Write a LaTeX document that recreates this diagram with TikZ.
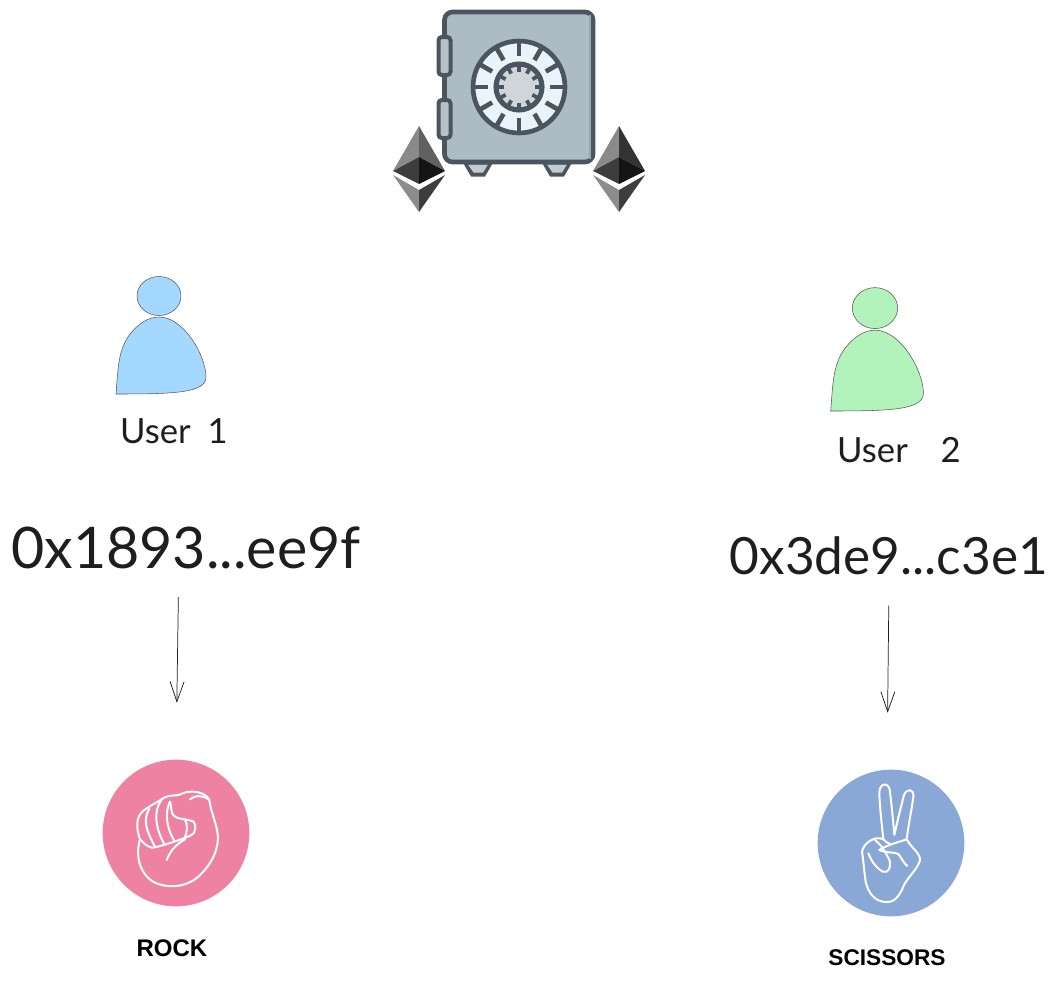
\documentclass[tikz,border=0pt]{standalone}
\usepackage{fontspec}
\setmainfont{Lato}
\newfontfamily\labelfont{Liberation Sans}
\usetikzlibrary{arrows.meta,calc}
\definecolor{safesteel}{HTML}{ADBCC4}
\definecolor{safeline}{HTML}{4A5560}
\definecolor{safeshade}{HTML}{97A7B0}
\definecolor{dialface}{HTML}{E8F3FB}
\definecolor{dialhub}{HTML}{D0D5DA}
\definecolor{footgrey}{HTML}{C5CACE}
\definecolor{userblue}{HTML}{A5D8FF}
\definecolor{usergreen}{HTML}{B2F2BB}
\definecolor{rockpink}{HTML}{EE82A2}
\definecolor{scissorblue}{HTML}{8AA8D6}
\definecolor{inkdark}{HTML}{1E1E1E}
\begin{document}
\begin{tikzpicture}[
  x=0.75pt,y=-0.75pt,
  >={Straight Barb[length=15pt,width=10.5pt]},
  flow/.style={->,line width=0.55pt,draw=inkdark},
  username/.style={font=\fontsize{26}{28}\selectfont,text=inkdark,inner sep=0pt},
  address/.style={text=inkdark,inner sep=0pt,minimum height=42pt},
  choice/.style={circle,inner sep=0pt,minimum size=110pt},
  choicetext/.style={text=black,inner sep=0pt},
  handline/.style={draw=white,line width=1.5pt,line join=round,line cap=round},
  zoomed/.style={x=0.25pt,y=-0.25pt},
  pics/userfig/.style={code={
    \draw[fill=#1,draw=inkdark!75,line width=0.4pt] (0,-98) ellipse (22 and 19.5);
    \draw[fill=#1,draw=inkdark!75,line width=0.4pt] (-43,0) .. controls (-41,-25) and (-41,-44) .. (-29,-60)
      .. controls (-20,-71) and (-10,-77) .. (0,-77)
      .. controls (25,-77) and (47,-38) .. (47,-17)
      .. controls (47,-1) and (15,0) .. (-43,0) -- cycle;
  }},
  pics/ethcoin/.style={code={
    \fill[black!46] (0,0) -- (-26,45) -- (0,31) -- cycle;
    \fill[#1] (0,0) -- (26,45) -- (0,31) -- cycle;
    \fill[black!76] (0,31) -- (-26,45) -- (0,58) -- cycle;
    \fill[black!92] (0,31) -- (26,45) -- (0,58) -- cycle;
    \fill[black!45] (-26,49) -- (0,64) -- (0,86) -- cycle;
    \fill[black!76] (26,49) -- (0,64) -- (0,86) -- cycle;
  }}
]
  \useasboundingbox (0,0) rectangle (1064,985);

  \fill[safeline] (462,161) -- (471,176.5) -- (485,176.5) -- (494,161) -- cycle;
  \fill[safeline] (541,161) -- (550,176.5) -- (564,176.5) -- (573,161) -- cycle;
  \fill[footgrey] (468,164.5) -- (473.5,172.5) -- (483,172.5) -- (488,164.5) -- cycle;
  \fill[footgrey] (547,164.5) -- (552.5,172.5) -- (562,172.5) -- (567,164.5) -- cycle;
  \draw[safeline,fill=safesteel,line width=3.5pt,rounded corners=6pt] (444.5,12) rectangle (593,162);
  \fill[safeshade] (588.5,15) rectangle (590.5,159);
  \foreach \hy in {37,100} {
    \draw[safeline,fill=safeshade!70!white,line width=3pt,rounded corners=2.5pt] (438.5,\hy) rectangle (450.5,\hy+38);
  }
  \draw[safeline,fill=dialface,line width=3.5pt] (519,87) circle (46);
  \foreach \ang in {0,30,...,330} {
    \draw[safeline,line width=3.5pt] ($(519,87)+(\ang:45)$) -- ($(519,87)+(\ang:31)$);
  }
  \draw[safeline,fill=dialhub,line width=3.8pt] (519,87) circle (23);
  \foreach \ang in {0,30,...,330} {
    \draw[safeline,line width=2.8pt] ($(519,87)+(\ang:23)$) -- ($(519,87)+(\ang:15.5)$);
  }
  \pic at (419,126) {ethcoin=black!62};
  \pic at (619,126) {ethcoin=black!80};

  \pic at (159,394) {userfig=userblue};
  \pic[xscale=1.03,yscale=1.05] at (875,411) {userfig=usergreen};

  \node[username] (user1) at (174,431) {User\hskip 6pt\ 1};
  \node[username] (user2) at (899,450) {User\hskip 18pt\ 2};
  \node[address,font=\fontsize{43}{46}\selectfont] (addr1) at (186,548) {0x1893...ee9f};
  \node[address,font=\fontsize{38.5}{42}\selectfont] (addr2) at (889,556) {0x3de9...c3e1};

  \node[choice,fill=rockpink] (rock) at (176,833) {};
  \node[choice,fill=scissorblue] (scissors) at (891,843) {};
  \node[choicetext,font=\labelfont\bfseries\fontsize{18}{20}\selectfont] (rocklabel) at (172,948) {ROCK};
  \node[choicetext,font=\labelfont\bfseries\fontsize{17}{20}\selectfont] (scissorslabel) at (887,958) {SCISSORS};

  \draw[flow,shorten <=15.7pt,shorten >=42.5pt] ([xshift=2pt]rock.north |- addr1.south) -- (rock.north);
  \draw[flow,shorten <=16pt,shorten >=42.5pt] ([xshift=-1.5pt]scissors.north |- addr2.south) -- ([xshift=-3pt]scissors.north);

  \begin{scope}[shift={(90,750)},zoomed]
    \draw[handline] (150,268) .. controls (135,320) and (150,375) .. (195,398)
      .. controls (240,418) and (300,410) .. (335,370)
      .. controls (370,335) and (388,290) .. (383,250)
      .. controls (378,215) and (362,185) .. (358,150)
      .. controls (350,128) and (305,118) .. (278,130)
      .. controls (258,142) and (235,130) .. (212,150)
      .. controls (195,160) and (185,165) .. (170,175)
      .. controls (145,190) and (132,215) .. (150,268);
    \draw[handline] (150,268) .. controls (165,285) and (185,298) .. (195,292)
      .. controls (235,282) and (275,268) .. (303,256)
      .. controls (318,250) and (320,225) .. (310,214)
      .. controls (285,206) and (260,208) .. (250,196)
      .. controls (240,180) and (245,165) .. (240,155);
    \draw[handline] (178,176) .. controls (158,210) and (168,240) .. (195,290);
    \draw[handline] (214,150) .. controls (188,185) and (198,240) .. (224,284);
    \draw[handline] (240,155) .. controls (222,190) and (232,240) .. (254,274);
    \draw[handline] (300,148) .. controls (315,135) and (335,135) .. (356,148);
    \draw[handline] (285,208) .. controls (294,225) and (292,245) .. (284,264);
    \draw[handline] (285,268) .. controls (255,285) and (240,305) .. (230,330);
  \end{scope}

  \begin{scope}[shift={(800,770)},zoomed]
    \draw[handline] (250,208) .. controls (245,160) and (238,100) .. (238,65)
      .. controls (240,38) and (268,35) .. (270,65)
      .. controls (275,110) and (280,155) .. (283,195)
      .. controls (293,150) and (303,110) .. (312,75)
      .. controls (320,55) and (342,55) .. (340,80)
      .. controls (335,120) and (325,165) .. (320,208)
      .. controls (335,235) and (362,250) .. (360,272)
      .. controls (350,300) and (325,320) .. (312,345)
      .. controls (300,375) and (285,398) .. (258,396)
      .. controls (225,395) and (205,370) .. (197,335)
      .. controls (192,300) and (190,270) .. (186,245)
      .. controls (190,220) and (225,195) .. (250,208);
    \draw[handline] (238,240) .. controls (260,225) and (300,215) .. (320,208);
    \draw[handline] (238,240) .. controls (260,250) and (280,245) .. (295,252)
      .. controls (305,265) and (312,280) .. (322,288);
    \draw[handline] (205,250) .. controls (215,275) and (230,295) .. (248,305)
      .. controls (265,310) and (272,295) .. (270,275)
      .. controls (262,255) and (245,225) .. (225,210);
    \draw[handline] (250,208) .. controls (258,215) and (262,220) .. (270,222);
  \end{scope}
\end{tikzpicture}
\end{document}
